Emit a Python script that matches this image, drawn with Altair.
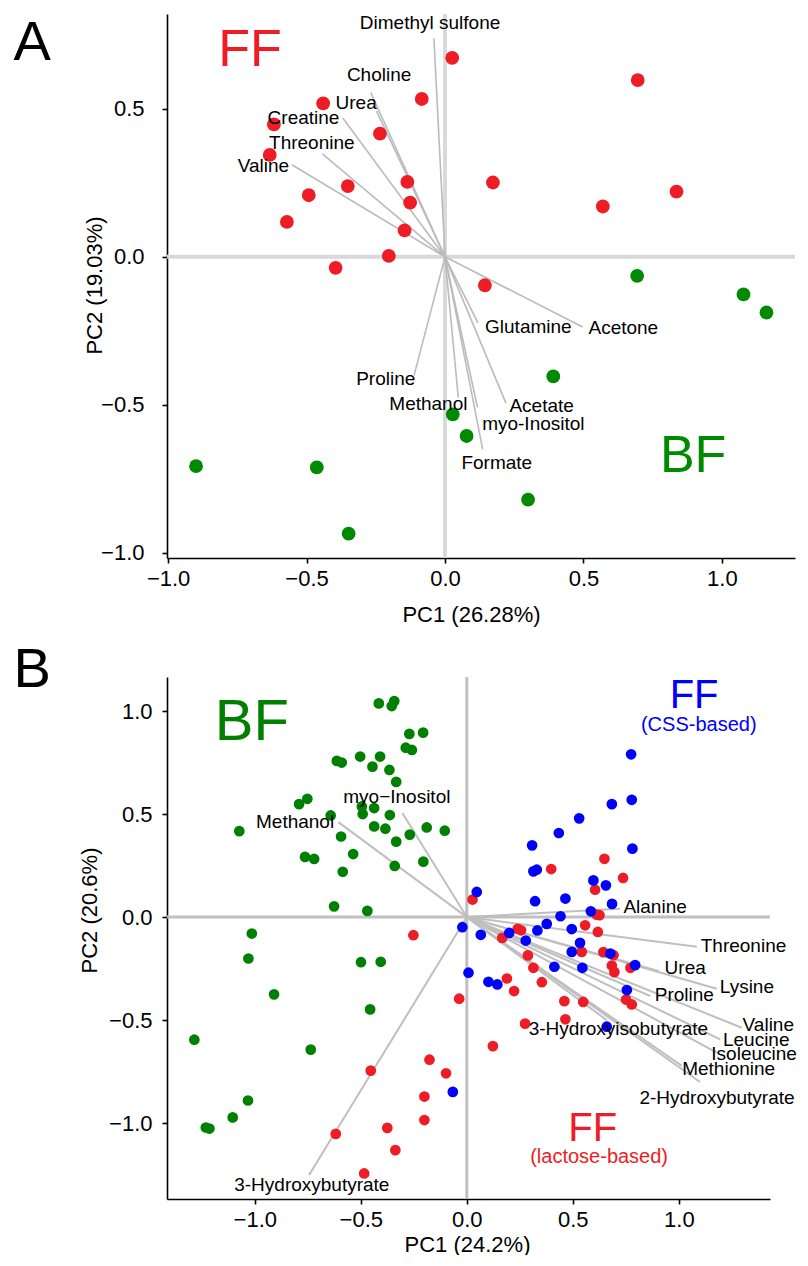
import altair as alt
import pandas as pd

FONT = "Liberation Sans"

# ---------------- Panel A data ----------------
a_ff_x = [0.026, -0.084, -0.44, -0.618, -0.235, -0.633, -0.136, -0.351, -0.492, -0.126,
          -0.571, -0.146, -0.203, -0.395, 0.696, 0.173, 0.836, 0.57, 0.144]
a_ff_y = [0.672, 0.533, 0.518, 0.447, 0.416, 0.344, 0.253, 0.239, 0.208, 0.183,
          0.118, 0.089, 0.003, -0.037, 0.597, 0.251, 0.22, 0.17, -0.096]
a_bf_x = [0.694, 1.078, 1.161, 0.391, 0.028, 0.078, 0.30, -0.899, -0.463, -0.348]
a_bf_y = [-0.064, -0.127, -0.188, -0.404, -0.532, -0.605, -0.82, -0.707, -0.711, -0.935]

a_load_names = ["Dimethyl sulfone", "Choline", "Urea", "Creatine", "Threonine", "Valine",
                "Glutamine", "Acetone", "Acetate", "myo-Inositol", "Formate", "Methanol", "Proline"]
a_load_x = [-0.04, -0.268, -0.247, -0.369, -0.443, -0.553, 0.119, 0.497, 0.22, 0.117, 0.136, 0.048, -0.112]
a_load_y = [0.738, 0.555, 0.492, 0.469, 0.348, 0.311, -0.223, -0.237, -0.494, -0.508, -0.65, -0.475, -0.401]
a_lab_x = [-0.054, -0.238, -0.321, -0.511, -0.481, -0.656, 0.301, 0.644, 0.349, 0.319, 0.187, -0.06, -0.214]
a_lab_y = [0.79, 0.614, 0.52, 0.469, 0.384, 0.308, -0.237, -0.241, -0.503, -0.565, -0.697, -0.497, -0.412]

a_ann_text = ["A", "FF", "BF"]
a_ann_x = [-1.491, -0.704, 0.896]
a_ann_y = [0.722, 0.70, -0.672]
a_ann_col = ["#000000", "#ee1c25", "#008a00"]
a_ann_size = [56, 52, 52]

a_xticks = [-1.0, -0.5, 0.0, 0.5, 1.0]
a_yticks = [-1.0, -0.5, 0.0, 0.5]

# ---------------- Panel B data ----------------
b_bf_x = [-0.415, -0.354, -0.342, -0.271, -0.206, -0.288, -0.259, -0.613, -0.590, -0.503,
          -0.409, -0.445, -0.365, -0.333, -0.791, -0.752, -0.642, -0.495, -0.437, -0.491,
          -0.363, -1.073, -0.593, -0.437, -0.384, -0.269, -0.189, -0.104, -0.333, -0.763,
          -0.720, -0.536, -0.585, -0.340, -0.205, -0.626, -0.469, -1.014, -1.030, -0.499,
          -0.406, -0.909, -0.456, -1.285, -0.736, -1.032, -1.104, -1.231, -1.214]
b_bf_y = [1.037, 1.024, 1.048, 0.889, 0.895, 0.822, 0.811, 0.758, 0.750, 0.779,
          0.779, 0.730, 0.714, 0.656, 0.548, 0.574, 0.493, 0.537, 0.529, 0.500,
          0.495, 0.417, 0.391, 0.440, 0.429, 0.400, 0.435, 0.419, 0.366, 0.292,
          0.282, 0.306, 0.220, 0.248, 0.269, 0.052, 0.030, -0.080, -0.201, -0.219,
          -0.217, -0.375, -0.448, -0.595, -0.643, -0.890, -0.972, -1.021, -1.026]
b_css_x = [0.775, 0.778, 0.684, 0.530, 0.434, 0.308, 0.781, 0.314, 0.330, 0.597,
           0.656, 0.322, 0.465, 0.685, 0.047, 0.585, 0.442, 0.377, -0.021, 0.066,
           0.333, 0.495, 0.200, 0.278, 0.534, 0.495, 0.677, 0.413, 0.545, 0.794,
           0.008, 0.102, 0.144, 0.755, 0.660, -0.066]
b_css_y = [0.790, 0.569, 0.548, 0.479, 0.408, 0.348, 0.332, 0.222, 0.230, 0.178,
           0.154, 0.077, 0.090, 0.064, 0.122, 0.028, 0.004, -0.033, -0.049, -0.086,
           -0.065, -0.058, -0.077, -0.114, -0.125, -0.169, -0.177, -0.241, -0.246, -0.233,
           -0.270, -0.314, -0.327, -0.354, -0.532, -0.848]
b_lac_x = [0.649, 0.737, 0.398, 0.605, 0.027, 0.613, 0.626, 0.558, 0.618, 0.240,
           0.256, 0.167, 0.288, 0.542, 0.644, 0.692, 0.314, 0.684, 0.696, 0.772,
           0.189, 0.223, 0.354, 0.751, 0.778, 0.460, 0.549, -0.036, 0.465, 0.275,
           0.123, -0.098, -0.252, -0.176, -0.453, -0.200, -0.200, -0.618, -0.375, -0.337,
           -0.484]
b_lac_y = [0.283, 0.190, 0.233, 0.133, 0.085, 0.012, 0.009, -0.040, -0.072, -0.057,
           -0.064, -0.101, -0.186, -0.169, -0.170, -0.185, -0.246, -0.235, -0.267, -0.246,
           -0.298, -0.359, -0.316, -0.400, -0.424, -0.408, -0.412, -0.396, -0.496, -0.517,
           -0.626, -0.758, -0.088, -0.692, -0.745, -0.871, -0.985, -1.052, -1.023, -1.131,
           -1.244]

b_load_names = ["myo\u2212Inositol", "Methanol", "3-Hydroxybutyrate", "Alanine", "Threonine", "Urea",
                "Lysine", "Proline", "Valine", "Leucine", "Isoleucine", "Methionine",
                "2-Hydroxybutyrate", "3-Hydroxyisobutyrate"]
b_load_x = [-0.304, -0.606, -0.744, 0.723, 1.085, 0.904, 1.179, 0.865, 1.297, 1.195, 1.179, 1.014, 1.10, 0.66]
b_load_y = [0.505, 0.461, -1.252, 0.04, -0.144, -0.262, -0.348, -0.383, -0.537, -0.593, -0.658, -0.722, -0.80, -0.50]
b_lab_x = [-0.33, -0.81, -0.731, 0.888, 1.305, 1.03, 1.321, 1.026, 1.422, 1.365, 1.355, 1.235, 1.18, 0.715]
b_lab_y = [0.585, 0.459, -1.30, 0.049, -0.141, -0.246, -0.338, -0.38, -0.525, -0.597, -0.666, -0.735, -0.876, -0.545]

b_ann_text = ["B", "BF", "FF", "(CSS-based)", "FF", "(lactose-based)"]
b_ann_x = [-2.05, -1.014, 1.072, 1.094, 0.594, 0.624]
b_ann_y = [1.199, 0.940, 1.073, 0.932, -1.029, -1.166]
b_ann_col = ["#000000", "#008000", "#0000ff", "#0000ff", "#ee1c25", "#ee1c25"]
b_ann_size = [56, 58, 40, 20, 40, 20]

b_xticks = [-1.0, -0.5, 0.0, 0.5, 1.0]
b_yticks = [-1.0, -0.5, 0.0, 0.5, 1.0]


def panel(groups, load_names, lx, ly, labx, laby, ann_t, ann_x, ann_y, ann_c, ann_s,
          xdom, ydom, xticks, yticks, w, h, xtitle, ytitle, xtitle_pos, ytitle_pos,
          zero_col, zero_w, line_col, line_w, pt_size, lab_fs, ax_fs, ylabpad):
    xs = alt.Scale(domain=xdom, nice=False, zero=False)
    ys = alt.Scale(domain=ydom, nice=False, zero=False)
    xaxis = alt.Axis(values=xticks, format=".1f", title=xtitle, grid=False,
                     titleX=xtitle_pos[0], titleY=xtitle_pos[1], titleBaseline="middle",
                     titleAlign="center", labelFontSize=ax_fs, titleFontSize=ax_fs,
                     labelPadding=5)
    yaxis = alt.Axis(values=yticks, format=".1f", title=ytitle, grid=False,
                     titleX=ytitle_pos[0], titleY=ytitle_pos[1], titleBaseline="middle",
                     titleAlign="center", labelFontSize=ax_fs, titleFontSize=ax_fs,
                     labelPadding=ylabpad)

    rows = []
    for col, (gx, gy) in groups:
        for xv, yv in zip(gx, gy):
            rows.append({"x": xv, "y": yv, "c": col})
    pts = pd.DataFrame(rows)
    loads = pd.DataFrame({"name": load_names, "x": lx, "y": ly, "lx": labx, "ly": laby,
                          "x0": [0.0] * len(lx), "y0": [0.0] * len(lx)})
    ann = pd.DataFrame({"t": ann_t, "x": ann_x, "y": ann_y, "c": ann_c, "s": ann_s})
    zero = pd.DataFrame({"v": [0.0]})

    vline = alt.Chart(zero).mark_rule(color=zero_col, strokeWidth=zero_w).encode(
        x=alt.X("v:Q", scale=xs, axis=xaxis))
    hline = alt.Chart(zero).mark_rule(color=zero_col, strokeWidth=zero_w).encode(
        y=alt.Y("v:Q", scale=ys, axis=yaxis))
    segs = alt.Chart(loads).mark_rule(color=line_col, strokeWidth=line_w).encode(
        x=alt.X("x0:Q", scale=xs, axis=xaxis), x2="x:Q",
        y=alt.Y("y0:Q", scale=ys, axis=yaxis), y2="y:Q")
    dots = alt.Chart(pts).mark_circle(size=pt_size, opacity=1).encode(
        x=alt.X("x:Q", scale=xs, axis=xaxis),
        y=alt.Y("y:Q", scale=ys, axis=yaxis),
        color=alt.Color("c:N", scale=None))
    labels = alt.Chart(loads).mark_text(font=FONT, fontSize=lab_fs, color="#000000",
                                        align="center", baseline="middle").encode(
        x=alt.X("lx:Q", scale=xs, axis=xaxis),
        y=alt.Y("ly:Q", scale=ys, axis=yaxis),
        text="name:N")
    annot = alt.Chart(ann).mark_text(font=FONT, align="center", baseline="middle").encode(
        x=alt.X("x:Q", scale=xs, axis=xaxis),
        y=alt.Y("y:Q", scale=ys, axis=yaxis),
        text="t:N",
        color=alt.Color("c:N", scale=None),
        size=alt.Size("s:Q", scale=None))
    return alt.layer(vline, hline, segs, dots, labels, annot).properties(width=w, height=h)


pa = panel([("#ee1c25", (a_ff_x, a_ff_y)), ("#008a00", (a_bf_x, a_bf_y))],
           a_load_names, a_load_x, a_load_y, a_lab_x, a_lab_y,
           a_ann_text, a_ann_x, a_ann_y, a_ann_col, a_ann_size,
           [-1.004, 1.264], [-1.017, 0.82], a_xticks, a_yticks, 628, 544,
           "PC1 (26.28%)", "PC2 (19.03%)", (304, 56), (-73, 271),
           "#d9d9d9", 4, "#bbbbbb", 1.6, 190, 19, 22, 18)

pb = panel([("#008000", (b_bf_x, b_bf_y)), ("#ee1c25", (b_lac_x, b_lac_y)),
            ("#0000ff", (b_css_x, b_css_y))],
           b_load_names, b_load_x, b_load_y, b_lab_x, b_lab_y,
           b_ann_text, b_ann_x, b_ann_y, b_ann_col, b_ann_size,
           [-1.414, 1.43], [-1.368, 1.165], b_xticks, b_yticks, 603, 522,
           "PC1 (24.2%)", "PC2 (20.6%)", (300, 45), (-78, 233),
           "#c0c0c0", 3, "#bfbfbf", 2, 115, 19, 22, 10)

chart = alt.vconcat(pa, pb, spacing=16).configure_view(strokeWidth=0).configure_axis(
    domainColor="#000000", domainWidth=1.6, tickColor="#000000", tickWidth=1.6, tickSize=5,
    labelFont=FONT, titleFont=FONT, labelColor="#000000", titleColor="#000000",
    titleFontWeight="normal").properties(padding={"left": 5, "top": 4, "right": 0, "bottom": 0})

chart.save("out.html", embed_options={"renderer": "svg", "actions": False})
